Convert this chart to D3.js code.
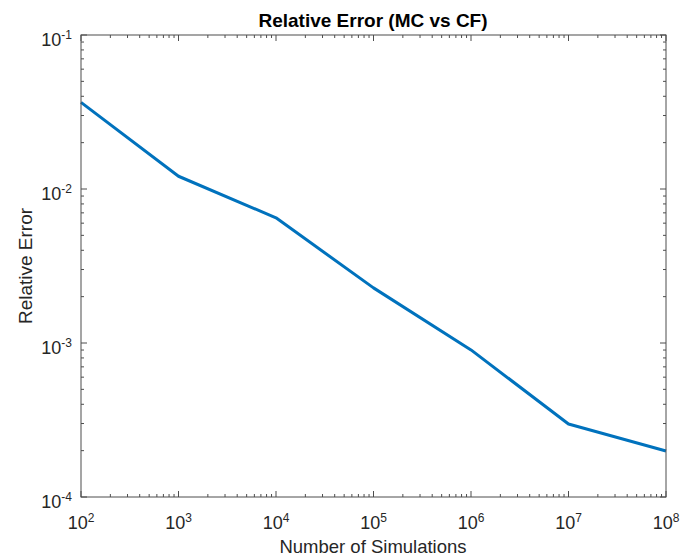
<!DOCTYPE html>
<html><head><meta charset="utf-8">
<script src="https://cdn.jsdelivr.net/npm/d3@7"></script>
<style>body{margin:0;background:#fff;} svg{display:block;font-family:"Liberation Sans",Arial,sans-serif;}</style>
</head><body>
<svg id="c" width="682" height="558"></svg>
<script>
const simulations = [1e2, 1e3, 1e4, 1e5, 1e6, 1e7, 1e8];
const relError = [0.0365, 0.0121, 0.0065, 0.00228, 0.000902, 0.000298, 0.000199];
const xTickExps = [2, 3, 4, 5, 6, 7, 8];
const yTickExps = [-1, -2, -3, -4];
const titleText = "Relative Error (MC vs CF)";
const xLabelText = "Number of Simulations";
const yLabelText = "Relative Error";

const svg = d3.select("#c");
const L = 81, R = 666, T = 35, B = 497;
const x = d3.scaleLog().domain([1e2, 1e8]).range([L, R]);
const y = d3.scaleLog().domain([1e-4, 1e-1]).range([B, T]);
const axisColor = "#4d4d4d";
const textColor = "#262626";

const xMinor = [], yMinor = [];
for (let e = 2; e < 8; e++) for (let m = 2; m <= 9; m++) xMinor.push(m * Math.pow(10, e));
for (let e = -4; e < -1; e++) for (let m = 2; m <= 9; m++) yMinor.push(m * Math.pow(10, e));
const xMajor = xTickExps.map(e => Math.pow(10, e));
const yMajor = yTickExps.map(e => Math.pow(10, e));

const g = svg.append("g");
function ticksX(vals, len) {
  vals.forEach(v => {
    g.append("line").attr("x1", x(v)).attr("x2", x(v)).attr("y1", B).attr("y2", B - len).attr("stroke", axisColor);
    g.append("line").attr("x1", x(v)).attr("x2", x(v)).attr("y1", T).attr("y2", T + len).attr("stroke", axisColor);
  });
}
function ticksY(vals, len) {
  vals.forEach(v => {
    g.append("line").attr("y1", y(v)).attr("y2", y(v)).attr("x1", L).attr("x2", L + len).attr("stroke", axisColor);
    g.append("line").attr("y1", y(v)).attr("y2", y(v)).attr("x1", R).attr("x2", R - len).attr("stroke", axisColor);
  });
}
ticksX(xMajor, 6); ticksX(xMinor, 3);
ticksY(yMajor, 6); ticksY(yMinor, 3);

const line = d3.line().x((d, i) => x(simulations[i])).y(d => y(d));
svg.append("path").datum(relError).attr("d", line)
  .attr("fill", "none").attr("stroke", "#0072BD").attr("stroke-width", 3).attr("stroke-linejoin", "round");

svg.append("rect").attr("x", L).attr("y", T).attr("width", R - L).attr("height", B - T)
  .attr("fill", "none").attr("stroke", axisColor).attr("stroke-width", 1);

xTickExps.forEach(e => {
  const t = svg.append("text").attr("x", x(Math.pow(10, e))).attr("y", 529)
    .attr("text-anchor", "middle").attr("font-size", 18).attr("fill", textColor);
  t.append("tspan").text("10");
  t.append("tspan").attr("dy", -7).attr("font-size", 12).text(String(e));
});
yTickExps.forEach(e => {
  const t = svg.append("text").attr("x", 72).attr("y", y(Math.pow(10, e)) + 11)
    .attr("text-anchor", "end").attr("font-size", 18).attr("fill", textColor);
  t.append("tspan").text("10");
  t.append("tspan").attr("dy", -7).attr("font-size", 12).text(String(e));
});

svg.append("text").attr("x", 373).attr("y", 27).attr("text-anchor", "middle")
  .attr("font-size", 19).attr("font-weight", "bold").attr("fill", "#000").text(titleText);
svg.append("text").attr("x", 373).attr("y", 553).attr("text-anchor", "middle")
  .attr("font-size", 18.5).attr("fill", textColor).text(xLabelText);
svg.append("text").attr("transform", `translate(32,266) rotate(-90)`).attr("text-anchor", "middle")
  .attr("font-size", 19).attr("fill", textColor).text(yLabelText);
</script>
</body></html>
